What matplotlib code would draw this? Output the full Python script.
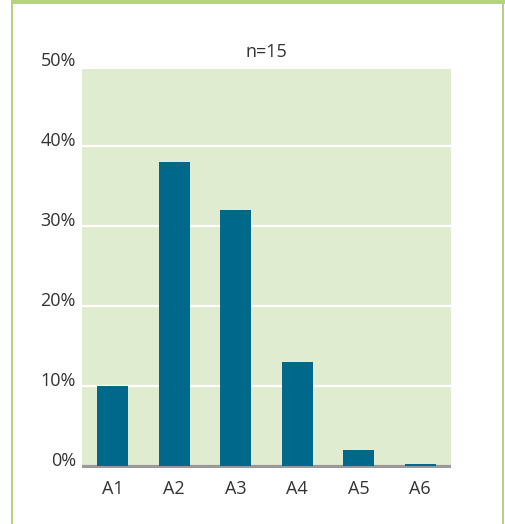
import numpy as np
import matplotlib
matplotlib.use("Agg")
import matplotlib.pyplot as plt
from matplotlib.patches import Rectangle

plt.rcParams['font.family'] = ['Open Sans', 'DejaVu Sans']

categories = ["A1", "A2", "A3", "A4", "A5", "A6"]
shares = [10.0, 38.0, 32.0, 13.0, 2.0, 0.15]       # percent of answers
y_ticks = [0, 10, 20, 30, 40, 50]
y_labels = ["0%", "10%", "20%", "30%", "40%", "50%"]
title = "n=15"

W, H = 505, 524
bar_color = "#00688A"
panel_color = "#E0ECCF"
frame_color = "#B3D47B"
text_color = "#333333"

fig = plt.figure(figsize=(W / 100, H / 100), dpi=100)


def px_rect(x0, y0, x1, y1):
    # rectangle given in pixel coords (origin top-left) -> figure fractions
    return Rectangle((x0 / W, 1 - y1 / H), (x1 - x0) / W, (y1 - y0) / H,
                     transform=fig.transFigure, facecolor=frame_color,
                     edgecolor="none", zorder=0)


# green frame: top, left and right edges
for r in [px_rect(11, 0, W, 4.3), px_rect(11, 0, 13.3, H), px_rect(501.7, 0, 504.2, H)]:
    fig.patches.append(r)

ax = fig.add_axes([82 / W, 1 - 468 / H, (451 - 82) / W, (468 - 69) / H])
ax.set_facecolor(panel_color)

x = np.arange(len(categories))
ax.bar(x, shares, width=0.5, color=bar_color, zorder=3)
ax.set_xlim(-0.5, len(categories) - 0.5)
ax.set_ylim(-0.31, 49.6)

for t in y_ticks[1:-1]:
    ax.axhline(t, color="white", lw=1.6, zorder=1)
ax.axhline(0, color="#999999", lw=2.3, zorder=2)

for sp in ax.spines.values():
    sp.set_visible(False)

ax.set_xticks(x)
ax.set_xticklabels(categories, fontsize=13, color=text_color)
ax.tick_params(axis="x", length=0, pad=9)
ax.set_yticks([])

# percent labels sit on their grid line, right-aligned left of the panel
for t, lab in zip(y_ticks, y_labels):
    ax.text(-0.6, t, lab, ha="right", va="baseline", fontsize=13,
            color=text_color, clip_on=False)

ax.set_title(title, fontsize=13, color=text_color, pad=9)

fig.savefig("out.png", dpi=100)
